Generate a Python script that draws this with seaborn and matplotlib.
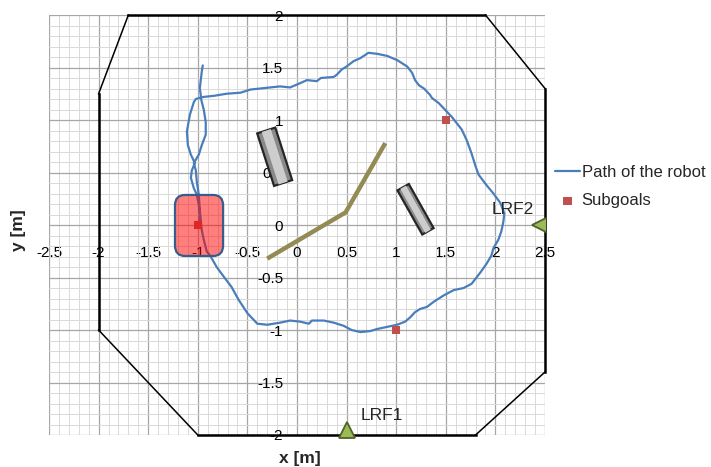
import numpy as np
import pandas as pd
import matplotlib.pyplot as plt
import seaborn as sns
from matplotlib.patches import Polygon, FancyBboxPatch

# robot path [m]
path_x = [-0.95, -0.96, -0.97, -0.98, -0.97, -0.97, -0.94, -0.92, -0.92, -0.96, -0.99, -1.04, -1.02, -1.01,
          -0.99, -0.98, -0.97, -0.96, -0.94, -0.91, -0.87, -0.81, -0.74, -0.66, -0.59, -0.50, -0.40, -0.30,
          -0.17, -0.07, 0.03, 0.12, 0.15, 0.27, 0.37, 0.47, 0.55, 0.64, 0.74, 0.81, 0.91, 1.01, 1.09, 1.14,
          1.19, 1.24, 1.31, 1.38, 1.48, 1.58, 1.68, 1.76, 1.85, 1.91, 1.96, 1.98, 2.03, 2.06, 2.08, 2.09,
          2.05, 1.98, 1.91, 1.83, 1.80, 1.76, 1.71, 1.66, 1.61, 1.56, 1.49, 1.43, 1.36, 1.34, 1.28, 1.23,
          1.19, 1.16, 1.11, 1.01, 0.91, 0.81, 0.72, 0.64, 0.57, 0.50, 0.45, 0.40, 0.37, 0.24, 0.20, 0.10,
          0.03, -0.07, -0.17, -0.27, -0.37, -0.47, -0.57, -0.71, -0.84, -0.94, -1.02, -1.04, -1.08, -1.11,
          -1.10, -1.07, -1.03, -1.06, -1.07, -1.04, -1.01, -0.99, -0.98, -0.99]
path_y = [1.52, 1.46, 1.38, 1.30, 1.24, 1.21, 1.10, 0.98, 0.86, 0.76, 0.67, 0.59, 0.52, 0.41,
          0.29, 0.14, 0.05, -0.05, -0.14, -0.25, -0.30, -0.40, -0.49, -0.59, -0.71, -0.84, -0.94, -0.95,
          -0.93, -0.91, -0.92, -0.94, -0.91, -0.91, -0.93, -0.96, -1.00, -1.02, -1.01, -0.99, -0.97, -0.95,
          -0.92, -0.88, -0.83, -0.80, -0.78, -0.73, -0.67, -0.62, -0.60, -0.56, -0.45, -0.37, -0.29, -0.22,
          -0.14, -0.06, 0.03, 0.11, 0.21, 0.30, 0.38, 0.48, 0.56, 0.68, 0.81, 0.91, 0.97, 1.03, 1.10, 1.16,
          1.21, 1.24, 1.30, 1.33, 1.38, 1.45, 1.51, 1.57, 1.61, 1.63, 1.64, 1.59, 1.56, 1.51, 1.48, 1.43,
          1.41, 1.40, 1.37, 1.38, 1.35, 1.31, 1.32, 1.31, 1.30, 1.29, 1.26, 1.25, 1.23, 1.22, 1.20, 1.17,
          1.05, 0.89, 0.76, 0.67, 0.59, 0.52, 0.45, 0.35, 0.29, 0.19, 0.10, -0.01]

subgoal_x = [-1.0, 1.5, 1.0]
subgoal_y = [0.0, 1.0, -1.0]

# arena border
border_x = [-1.7, 1.9, 2.5, 2.5, 1.8, -1.0, -2.0, -2.0, -1.7]
border_y = [2.0, 2.0, 1.3, -1.4, -2.0, -2.0, -1.0, 1.25, 2.0]

# wall
wall_x = [-0.30, 0.49, 0.89]
wall_y = [-0.32, 0.12, 0.78]

# obstacles: end points of the long axis
obst_start = [(-0.31, 0.90), (1.07, 0.36)]
obst_end = [(-0.14, 0.40), (1.32, -0.06)]

# start area box
box_x0, box_x1 = -1.23, -0.745
box_y0, box_y1 = -0.295, 0.286

lrf_names = ['LRF1', 'LRF2']
lrf_x = [0.5, 2.45]
lrf_y = [-1.95, 0.0]
lrf_text_x = [0.86, 2.17]
lrf_text_y = [-1.81, 0.15]

x_ticks = [-2.5, -2, -1.5, -1, -0.5, 0, 0.5, 1, 1.5, 2, 2.5]
x_ticklabels = ['-2.5', '-2', '-1.5', '-1', '-0.5', '0', '0.5', '1', '1.5', '2', '2.5']
y_ticks = [-2, -1.5, -1, -0.5, 0, 0.5, 1, 1.5, 2]
y_ticklabels = ['-2', '-1.5', '-1', '-0.5', '0', '0.5', '1', '1.5', '2']

sns.set_theme(style='white')
plt.rcParams['font.family'] = ['Liberation Sans', 'DejaVu Sans']
fs = 12.5

fig = plt.figure(figsize=(7.11, 4.67), dpi=100)
ax = fig.add_axes([49 / 711, 32 / 467, 496 / 711, 420 / 467])
ax.set_xlim(-2.5, 2.5)
ax.set_ylim(-2, 2)

# grid
ax.set_axisbelow(True)
ax.set_xticks(x_ticks)
ax.set_xticklabels(x_ticklabels, fontsize=fs)
ax.set_yticks(y_ticks)
ax.set_yticklabels(y_ticklabels, fontsize=fs)
ax.set_xticks(np.arange(-2.5, 2.51, 0.1), minor=True)
ax.set_yticks(np.arange(-2.0, 2.01, 0.1), minor=True)
ax.grid(which='minor', color='#d9d9d9', lw=0.7)
ax.grid(which='major', color='#a6a6a6', lw=0.9)
for s in ax.spines.values():
    s.set_visible(False)
ax.spines['left'].set_position(('data', 0))
ax.spines['bottom'].set_position(('data', 0))
ax.tick_params(axis='x', which='both', length=0, pad=15, colors='black')
ax.tick_params(axis='y', which='both', length=0, pad=10, colors='black')

# border
for i in range(len(border_x) - 1):
    xs = border_x[i:i + 2]
    ys = border_y[i:i + 2]
    straight = xs[0] == xs[1] or ys[0] == ys[1]
    ax.plot(xs, ys, color='black', lw=1.8 if straight else 1.1, clip_on=False, zorder=3,
            solid_capstyle='projecting')

# wall
ax.plot(wall_x, wall_y, color='#948A54', lw=3.2, zorder=3, solid_capstyle='butt')

# obstacles
sx, sy = 496 / 5, 420 / 4
def bar_poly(p0, p1, w):
    a = np.array([p0[0] * sx, p0[1] * sy])
    b = np.array([p1[0] * sx, p1[1] * sy])
    d = (b - a) / np.linalg.norm(b - a)
    n = np.array([-d[1], d[0]]) * w / 2
    pts = np.array([a + n, b + n, b - n, a - n])
    return pts / [sx, sy]

for p0, p1, w in zip(obst_start, obst_end, [19, 13]):
    ax.add_patch(Polygon(bar_poly(p0, p1, w), closed=True, fc='#8a8a8a', ec='#262626', lw=1.6, zorder=4))
    ax.add_patch(Polygon(bar_poly(p0, p1, w * 0.5), closed=True, fc='#cdcdcd', ec='none', zorder=4))

# path and subgoals
sns.lineplot(x=path_x, y=path_y, sort=False, estimator=None, color='#4A7EBB', lw=1.6,
             label='Path of the robot', ax=ax, zorder=5)
sns.scatterplot(x=subgoal_x, y=subgoal_y, marker='s', s=36, color='#C0504D', edgecolor='none',
                label='Subgoals', ax=ax, zorder=6)

# start box
ax.add_patch(FancyBboxPatch((box_x0, box_y0), box_x1 - box_x0, box_y1 - box_y0,
                            boxstyle='round,pad=0,rounding_size=0.1',
                            fc=(1, 0, 0, 0.5), ec='#385D8A', lw=1.6, zorder=7))

# laser range finders
ax.plot(lrf_x[0], lrf_y[0], marker='^', ms=11, mfc='#9BBB59', mec='#4F6228', mew=1.3, zorder=8,
        clip_on=False, label='_nolegend_')
ax.plot(lrf_x[1], lrf_y[1], marker='<', ms=11, mfc='#9BBB59', mec='#4F6228', mew=1.3, zorder=8,
        label='_nolegend_')
for name, tx, ty in zip(lrf_names, lrf_text_x, lrf_text_y):
    ax.text(tx, ty, name, ha='center', va='center', fontsize=fs, zorder=9)

ax.set_xlabel('')
ax.set_ylabel('')
fig.text(300 / 711, 1 - 458 / 467, 'x [m]', ha='center', va='center', fontsize=fs, fontweight='bold')
fig.text(18 / 711, 1 - 230 / 467, 'y [m]', ha='center', va='center', rotation=90, fontsize=fs,
         fontweight='bold')

ax.legend(loc='upper left', bbox_to_anchor=(555 / 711, 1 - 165 / 467), bbox_transform=fig.transFigure,
          frameon=False, borderpad=0, borderaxespad=0, handlelength=1.5, handletextpad=0.1,
          labelspacing=0.8, fontsize=12)

fig.savefig('out.png', dpi=100)
